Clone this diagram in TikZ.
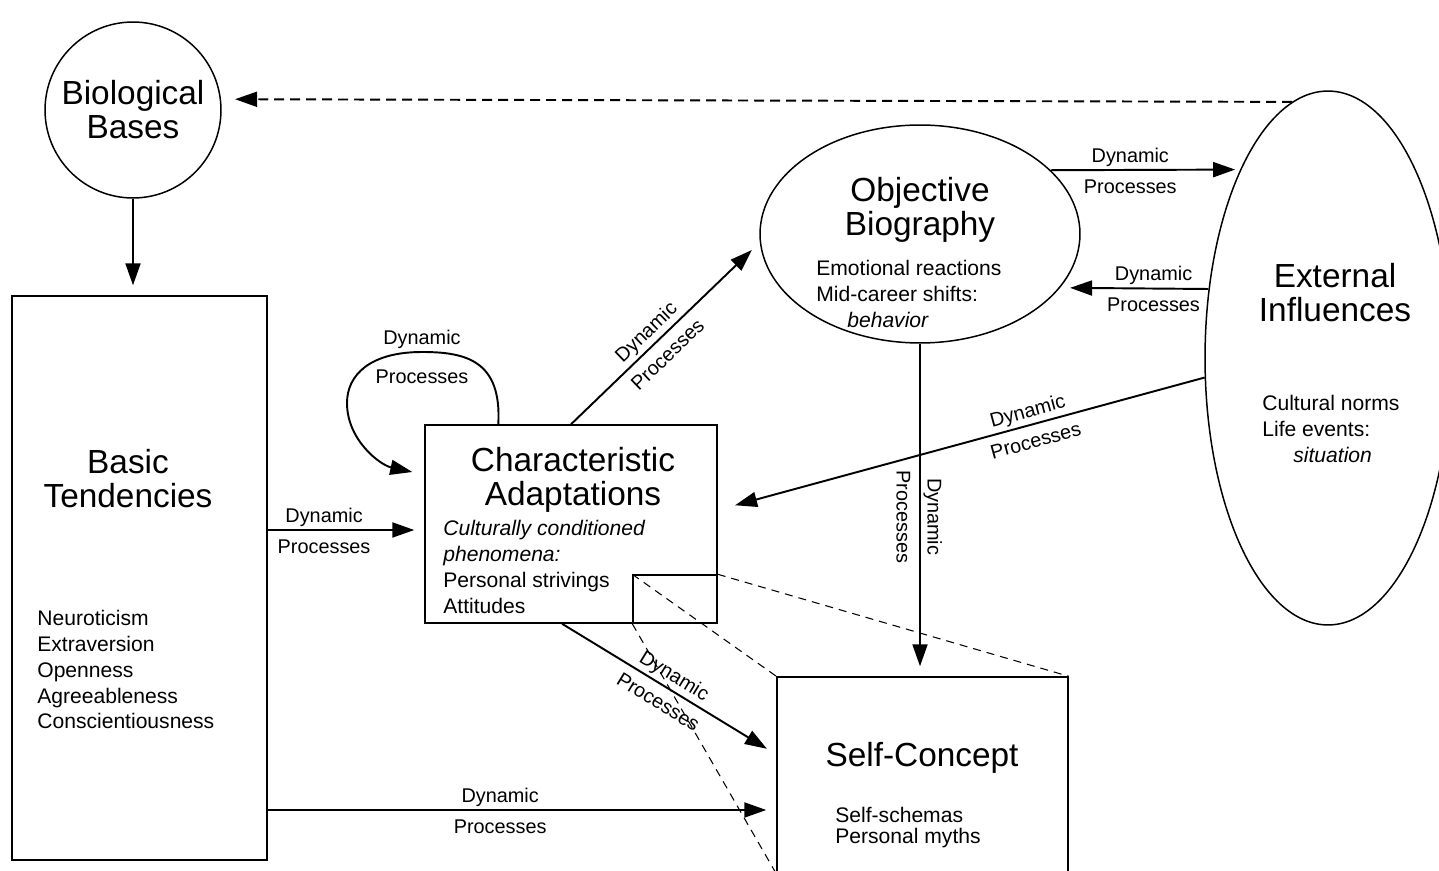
\documentclass[tikz,border=0pt]{standalone}
\usepackage{fontspec}
\setmainfont{Liberation Sans}
\usetikzlibrary{shapes.geometric,arrows.meta}

\begin{document}
\begin{tikzpicture}[x=0.02cm,y=-0.02cm,
  box/.style={draw,line width=0.85pt,rectangle,inner sep=0pt},
  oval/.style={draw,line width=0.85pt,ellipse,inner sep=0pt},
  title/.style={font=\fontsize{19}{19.4}\selectfont,align=center},
  items/.style={font=\fontsize{12}{14.7}\selectfont,align=left,anchor=north west,inner sep=0pt},
  flow/.style={-{Triangle[length=0.44cm,width=0.3cm]},line width=1.1pt,shorten >=0.2cm},
  dyn/.style={font=\fontsize{11.3}{13}\selectfont,above,inner sep=1.5pt},
  proc/.style={font=\fontsize{11.3}{13}\selectfont,below,inner sep=5pt},
  guide/.style={dash pattern=on 0.16cm off 0.12cm,line width=0.6pt}]
  \useasboundingbox (0,0) rectangle (1439,871);

  % the five parts
  \node[draw,circle,line width=0.85pt,inner sep=0pt,minimum size=3.52cm,title] (bio) at (133,110) {Biological\\Bases};
  \node[box,minimum width=5.1cm,minimum height=11.28cm] (basic) at (139.5,578) {};
  \node[box,minimum width=5.84cm,minimum height=3.96cm] (ca) at (571,524) {};
  \node[box,minimum width=1.68cm,minimum height=0.96cm] (sub) at (675,599) {};
  \node[box,minimum width=5.82cm,minimum height=3.92cm] (self) at (922.5,775) {};
  \node[oval,minimum width=6.4cm,minimum height=4.36cm] (obj) at (920,234) {};
  \node[oval,minimum width=4.92cm,minimum height=10.68cm] (ext) at (1328,358) {};

  \node[title] (basicT) at (128,479) {Basic\\Tendencies};
  \node[title] (caT) at (573,480) {Characteristic\\Adaptations};
  \node[title] (selfT) at (922,758) {Self-Concept};
  \node[title] (objT) at (920,210) {Objective\\Biography};
  \node[title] (extT) at (1335,293) {External\\Influences};

  \node[items] (basicL) at (37,610) {Neuroticism\\Extraversion\\Openness\\Agreeableness\\Conscientiousness};
  \node[items] (caL) at (443,520) {\textit{Culturally conditioned}\\\textit{phenomena:}\\Personal strivings\\Attitudes};
  \node[items,font=\fontsize{12}{11.9}\selectfont] (selfL) at (835,807) {Self-schemas\\Personal myths};
  \node[items] (objL) at (816,260) {Emotional reactions\\Mid-career shifts:\\\hspace*{0.62cm}\textit{behavior}};
  \node[items] (extL) at (1262,395) {Cultural norms\\Life events:\\\hspace*{0.62cm}\textit{situation}};

  % dynamic processes
  \path (bio.south) [flow] edge (bio.south |- basic.north);
  \path (ext.98) [flow,dash pattern=on 0.2cm off 0.12cm,shorten >=0.28cm] edge (bio.7);
  \path ([yshift=-0.12cm]basic.east |- ca.west) [flow] edge node[dyn,pos=0.36] {Dynamic} node[proc,pos=0.36] {Processes} ([yshift=-0.12cm]ca.west);
  \path ([yshift=-0.7cm]basic.east |- self.west) [flow] edge node[dyn,pos=0.457] {Dynamic} node[proc,pos=0.457] {Processes} ([yshift=-0.7cm]self.west);
  \path (obj.26) [flow,shorten >=0.1cm] edge node[dyn,pos=0.42] {Dynamic} node[proc,pos=0.42] {Processes} (ext.115);
  \path (ext.150) [flow] edge node[dyn,pos=0.37] {Dynamic} node[proc,pos=0.37] {Processes} (obj.-21);
  \path (ca.north) [flow,shorten >=0.22cm] edge node[dyn,sloped,pos=0.45] {Dynamic} node[proc,sloped,pos=0.45] {Processes} (obj.183);
  \path (ext.189) [flow,shorten >=0.36cm] edge node[dyn,sloped,pos=0.356] {Dynamic} node[proc,sloped,pos=0.356] {Processes} ([yshift=0.28cm]ca.east);
  \path (obj.south) [flow] edge node[dyn,sloped,pos=0.52] {Dynamic} node[proc,sloped,pos=0.52] {Processes} (obj.south |- self.north);
  \path ([xshift=-0.18cm]ca.south) [flow,shorten >=0.22cm] edge node[dyn,sloped,pos=0.49] {Dynamic} node[proc,sloped,pos=0.49] {Processes} ([yshift=0.41cm]self.west);
  \draw[flow,shorten >=0pt] ([xshift=1.48cm]ca.north west) .. controls (502,360) and (465,352) .. (422,352)
    node[dyn] {Dynamic} node[proc,yshift=-0.16cm] {Processes}
    .. controls (370,352) and (347,375) .. (347,403) .. controls (347,440) and (380,465) .. ([xshift=-0.24cm,yshift=1.04cm]ca.west);

  % close-up lines
  \draw[guide] (sub.north west) -- (self.north west);
  \draw[guide] (sub.north east) -- (self.north east);
  \draw[guide] (sub.south west) -- (self.south west);
\end{tikzpicture}
\end{document}
